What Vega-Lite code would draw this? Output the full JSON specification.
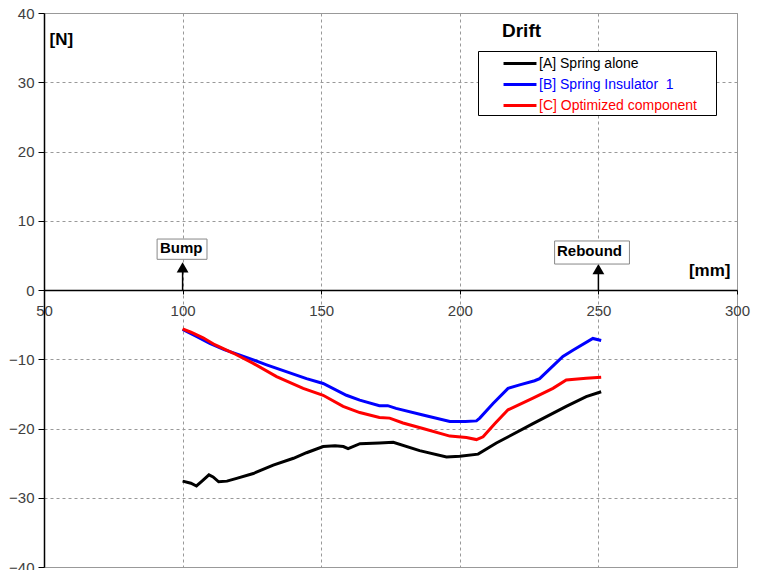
{
  "$schema": "https://vega.github.io/schema/vega-lite/v6.json",
  "width": 693,
  "height": 554,
  "autosize": {"type": "none"},
  "padding": {"left": 44, "top": 13, "right": 20, "bottom": 3},
  "background": "white",
  "config": {
    "view": {"stroke": "#999999", "strokeWidth": 1},
    "font": "Liberation Sans"
  },
  "title": {"text": "Drift", "anchor": "start", "frame": "group", "dx": 458, "dy": 25, "offset": -25, "fontSize": 19, "font": "Liberation Sans", "fontWeight": "bold", "color": "black", "baseline": "alphabetic"},
  "datasets": {
    "curves": [
      {"series": "[A] Spring alone", "x": 100, "y": -27.6},
      {"series": "[A] Spring alone", "x": 103, "y": -27.9},
      {"series": "[A] Spring alone", "x": 105, "y": -28.3},
      {"series": "[A] Spring alone", "x": 107, "y": -27.6},
      {"series": "[A] Spring alone", "x": 109.5, "y": -26.7},
      {"series": "[A] Spring alone", "x": 111, "y": -27.0},
      {"series": "[A] Spring alone", "x": 113, "y": -27.7},
      {"series": "[A] Spring alone", "x": 116, "y": -27.6},
      {"series": "[A] Spring alone", "x": 119.5, "y": -27.2},
      {"series": "[A] Spring alone", "x": 125.5, "y": -26.5},
      {"series": "[A] Spring alone", "x": 132.7, "y": -25.3},
      {"series": "[A] Spring alone", "x": 140, "y": -24.3},
      {"series": "[A] Spring alone", "x": 144.7, "y": -23.5},
      {"series": "[A] Spring alone", "x": 150.7, "y": -22.6},
      {"series": "[A] Spring alone", "x": 155, "y": -22.5},
      {"series": "[A] Spring alone", "x": 158, "y": -22.6},
      {"series": "[A] Spring alone", "x": 159.7, "y": -22.9},
      {"series": "[A] Spring alone", "x": 164, "y": -22.2},
      {"series": "[A] Spring alone", "x": 171, "y": -22.1},
      {"series": "[A] Spring alone", "x": 176, "y": -22.0},
      {"series": "[A] Spring alone", "x": 185.5, "y": -23.2},
      {"series": "[A] Spring alone", "x": 195.2, "y": -24.1},
      {"series": "[A] Spring alone", "x": 200, "y": -24.0},
      {"series": "[A] Spring alone", "x": 206.6, "y": -23.7},
      {"series": "[A] Spring alone", "x": 213.2, "y": -22.1},
      {"series": "[A] Spring alone", "x": 226.4, "y": -19.3},
      {"series": "[A] Spring alone", "x": 238.4, "y": -16.8},
      {"series": "[A] Spring alone", "x": 245.6, "y": -15.4},
      {"series": "[A] Spring alone", "x": 251, "y": -14.7},
      {"series": "[B] Spring Insulator  1", "x": 100, "y": -5.7},
      {"series": "[B] Spring Insulator  1", "x": 105, "y": -6.7},
      {"series": "[B] Spring Insulator  1", "x": 109.8, "y": -7.7},
      {"series": "[B] Spring Insulator  1", "x": 115, "y": -8.6},
      {"series": "[B] Spring Insulator  1", "x": 120.7, "y": -9.4},
      {"series": "[B] Spring Insulator  1", "x": 130.3, "y": -10.8},
      {"series": "[B] Spring Insulator  1", "x": 144.7, "y": -12.8},
      {"series": "[B] Spring Insulator  1", "x": 150.7, "y": -13.5},
      {"series": "[B] Spring Insulator  1", "x": 159.1, "y": -15.2},
      {"series": "[B] Spring Insulator  1", "x": 163.9, "y": -15.9},
      {"series": "[B] Spring Insulator  1", "x": 171, "y": -16.7},
      {"series": "[B] Spring Insulator  1", "x": 174, "y": -16.7},
      {"series": "[B] Spring Insulator  1", "x": 177, "y": -17.1},
      {"series": "[B] Spring Insulator  1", "x": 186.7, "y": -18.05},
      {"series": "[B] Spring Insulator  1", "x": 196.4, "y": -19.0},
      {"series": "[B] Spring Insulator  1", "x": 202, "y": -19.0},
      {"series": "[B] Spring Insulator  1", "x": 206, "y": -18.9},
      {"series": "[B] Spring Insulator  1", "x": 207.2, "y": -18.5},
      {"series": "[B] Spring Insulator  1", "x": 212, "y": -16.4},
      {"series": "[B] Spring Insulator  1", "x": 217.4, "y": -14.2},
      {"series": "[B] Spring Insulator  1", "x": 221.6, "y": -13.7},
      {"series": "[B] Spring Insulator  1", "x": 227, "y": -13.1},
      {"series": "[B] Spring Insulator  1", "x": 228.8, "y": -12.8},
      {"series": "[B] Spring Insulator  1", "x": 237.2, "y": -9.6},
      {"series": "[B] Spring Insulator  1", "x": 240.8, "y": -8.7},
      {"series": "[B] Spring Insulator  1", "x": 248, "y": -7.0},
      {"series": "[B] Spring Insulator  1", "x": 251, "y": -7.3},
      {"series": "[C] Optimized component", "x": 100, "y": -5.6},
      {"series": "[C] Optimized component", "x": 103, "y": -6.1},
      {"series": "[C] Optimized component", "x": 107.4, "y": -6.9},
      {"series": "[C] Optimized component", "x": 111.6, "y": -7.9},
      {"series": "[C] Optimized component", "x": 118.2, "y": -9.1},
      {"series": "[C] Optimized component", "x": 125.5, "y": -10.6},
      {"series": "[C] Optimized component", "x": 133.9, "y": -12.5},
      {"series": "[C] Optimized component", "x": 143.5, "y": -14.2},
      {"series": "[C] Optimized component", "x": 150.7, "y": -15.2},
      {"series": "[C] Optimized component", "x": 157.9, "y": -16.8},
      {"series": "[C] Optimized component", "x": 163.9, "y": -17.7},
      {"series": "[C] Optimized component", "x": 171, "y": -18.4},
      {"series": "[C] Optimized component", "x": 174.7, "y": -18.5},
      {"series": "[C] Optimized component", "x": 179.5, "y": -19.2},
      {"series": "[C] Optimized component", "x": 186.7, "y": -20.0},
      {"series": "[C] Optimized component", "x": 196.4, "y": -21.1},
      {"series": "[C] Optimized component", "x": 202.4, "y": -21.3},
      {"series": "[C] Optimized component", "x": 206, "y": -21.6},
      {"series": "[C] Optimized component", "x": 208.4, "y": -21.2},
      {"series": "[C] Optimized component", "x": 212.6, "y": -19.3},
      {"series": "[C] Optimized component", "x": 217.4, "y": -17.3},
      {"series": "[C] Optimized component", "x": 226.4, "y": -15.6},
      {"series": "[C] Optimized component", "x": 233.6, "y": -14.2},
      {"series": "[C] Optimized component", "x": 238.4, "y": -13.0},
      {"series": "[C] Optimized component", "x": 245.6, "y": -12.75},
      {"series": "[C] Optimized component", "x": 251, "y": -12.6}
    ],
    "notes": [
      {"label": "Bump", "x": 100, "tx": 99.5, "x0": 90.8, "x1": 108.8, "y0": 4.43, "y1": 7.36, "ty": 6.1, "base": 0, "head": 3.25},
      {"label": "Rebound", "x": 250, "tx": 246.8, "x0": 234.2, "x1": 261.2, "y0": 3.75, "y1": 7.08, "ty": 5.6, "base": 0, "head": 3.0}
    ]
  },
  "layer": [
    {
      "data": {"name": "curves"},
      "mark": {"type": "line", "strokeWidth": 3, "clip": true},
      "encoding": {
        "x": {
          "field": "x", "type": "quantitative",
          "scale": {"domain": [50, 300], "nice": false, "zero": false},
          "axis": {
            "orient": "bottom", "offset": -277, "values": [50, 100, 150, 200, 250, 300],
            "title": "[mm]", "titleX": 686, "titleY": -15, "titleAlign": "right", "titleBaseline": "alphabetic",
            "titleFontSize": 17, "titleFontWeight": "bold", "titleFont": "Liberation Sans", "titleColor": "black",
            "labelFont": "Liberation Sans", "labelFontSize": 15, "labelColor": "#404040", "labelPadding": 9, "labelFlush": false,
            "domainColor": "black", "domainWidth": 1.5, "tickColor": "black", "tickSize": 4,
            "grid": true, "gridColor": "#999999", "gridDash": [3, 3]
          }
        },
        "y": {
          "field": "y", "type": "quantitative",
          "scale": {"domain": [-40, 40], "nice": false},
          "axis": {
            "values": [-40, -30, -20, -10, 0, 10, 20, 30, 40],
            "title": "[N]", "titleAngle": 0, "titleX": 5, "titleY": 31, "titleAlign": "left", "titleBaseline": "alphabetic",
            "titleFontSize": 17, "titleFontWeight": "bold", "titleFont": "Liberation Sans", "titleColor": "black",
            "labelFont": "Liberation Sans", "labelFontSize": 15, "labelColor": "#404040", "labelPadding": 4, "labelFlush": false,
            "domainColor": "black", "domainWidth": 1.5, "tickColor": "black", "tickSize": 6,
            "grid": true, "gridColor": "#999999", "gridDash": [3, 3]
          }
        },
        "color": {
          "field": "series", "type": "nominal",
          "scale": {"domain": ["[A] Spring alone", "[B] Spring Insulator  1", "[C] Optimized component"], "range": ["#000000", "#0000ff", "#ff0000"]},
          "legend": {
            "title": " ", "titleOrient": "right", "titlePadding": 17, "titleFontSize": 10,
            "orient": "none", "legendX": 434, "legendY": 38,
            "strokeColor": "black", "fillColor": "white", "padding": 2,
            "symbolType": "M-1.83,0H1.83", "symbolStrokeWidth": 3, "symbolSize": 324, "symbolOffset": 29.5,
            "labelFont": "Liberation Sans", "labelFontSize": 14, "labelOffset": 8.5, "rowPadding": 3,
            "labelExpr": "replace(datum.label, '  ', ' \u00a0')",
            "encode": {"labels": {"update": {"fill": {"signal": "scale('color', datum.value)"}}}}
          }
        }
      }
    },
    {
      "data": {"name": "notes"},
      "mark": {"type": "rule", "color": "black", "strokeWidth": 1.5},
      "encoding": {
        "x": {"field": "x", "type": "quantitative"},
        "y": {"field": "base", "type": "quantitative"},
        "y2": {"field": "head"}
      }
    },
    {
      "data": {"name": "notes"},
      "mark": {"type": "point", "shape": "triangle-up", "filled": true, "color": "black", "size": 140, "opacity": 1},
      "encoding": {
        "x": {"field": "x", "type": "quantitative"},
        "y": {"field": "head", "type": "quantitative"}
      }
    },
    {
      "data": {"name": "notes"},
      "mark": {"type": "rect", "fill": "white", "stroke": "#888888", "strokeWidth": 1},
      "encoding": {
        "x": {"field": "x0", "type": "quantitative"},
        "x2": {"field": "x1"},
        "y": {"field": "y0", "type": "quantitative"},
        "y2": {"field": "y1"}
      }
    },
    {
      "data": {"name": "notes"},
      "mark": {"type": "text", "font": "Liberation Sans", "fontSize": 15, "fontWeight": "bold", "color": "black", "baseline": "middle", "align": "center"},
      "encoding": {
        "x": {"field": "tx", "type": "quantitative"},
        "y": {"field": "ty", "type": "quantitative"},
        "text": {"field": "label"}
      }
    }
  ]
}
